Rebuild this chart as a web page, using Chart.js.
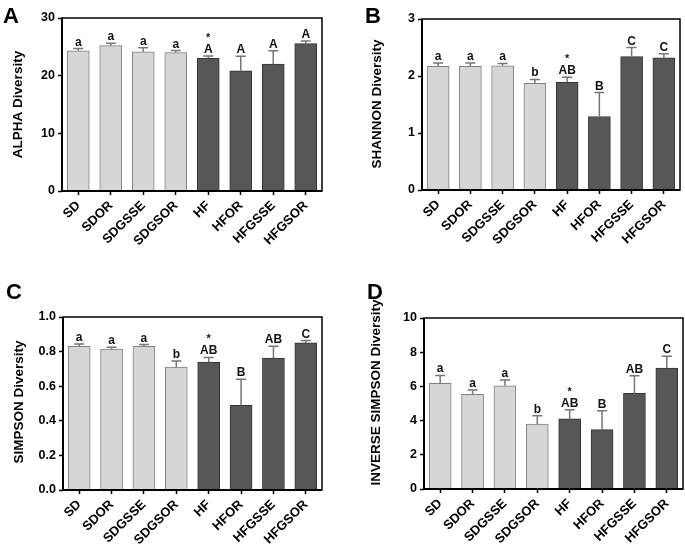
<!DOCTYPE html>
<html>
<head>
<meta charset="utf-8">
<script src="https://cdn.jsdelivr.net/npm/chart.js@4.4.1/dist/chart.umd.min.js"></script>
<style>
body { margin: 0; background: #fff; }
#wrap { position: relative; width: 685px; height: 545px; overflow: hidden; background: #fff; }
canvas { position: absolute; }
</style>
</head>
<body>
<div id="wrap">
  <canvas id="cA" width="342" height="272" style="left:0;top:0"></canvas>
  <canvas id="cB" width="343" height="272" style="left:342px;top:0"></canvas>
  <canvas id="cC" width="342" height="273" style="left:0;top:272px"></canvas>
  <canvas id="cD" width="343" height="273" style="left:342px;top:272px"></canvas>
</div>
<script>
// groups
var categories = ['SD', 'SDOR', 'SDGSSE', 'SDGSOR', 'HF', 'HFOR', 'HFGSSE', 'HFGSOR'];

// mean and SEM
var alphaMean = [24.3, 25.2, 24.15, 24.0, 23.0, 20.85, 22.0, 25.55];
var alphaSem = [0.4, 0.4, 0.7, 0.35, 0.4, 2.5, 2.3, 0.45];
var alphaLetters = ['a', 'a', 'a', 'a', 'A', 'A', 'A', 'A'];
var alphaTicks = [0, 10, 20, 30];

var shannonMean = [2.17, 2.17, 2.18, 1.87, 1.89, 1.29, 2.34, 2.32];
var shannonSem = [0.06, 0.06, 0.04, 0.07, 0.09, 0.42, 0.16, 0.07];
var shannonLetters = ['a', 'a', 'a', 'b', 'AB', 'B', 'C', 'C'];
var shannonTicks = [0, 1, 2, 3];

var simpsonMean = [0.831, 0.814, 0.831, 0.710, 0.739, 0.489, 0.762, 0.850];
var simpsonSem = [0.013, 0.011, 0.010, 0.036, 0.027, 0.151, 0.069, 0.014];
var simpsonLetters = ['a', 'a', 'a', 'b', 'AB', 'B', 'AB', 'C'];
var simpsonTicks = [0, 0.2, 0.4, 0.6, 0.8, 1.0];

var invSimpsonMean = [6.18, 5.54, 6.04, 3.79, 4.11, 3.47, 5.59, 7.07];
var invSimpsonSem = [0.46, 0.25, 0.33, 0.50, 0.53, 1.11, 1.03, 0.70];
var invSimpsonLetters = ['a', 'a', 'a', 'b', 'AB', 'B', 'AB', 'C'];
var invSimpsonTicks = [0, 2, 4, 6, 8, 10];

// group marked with an asterisk
var starGroup = 'HF';

var FONT = "'Liberation Sans', Arial, sans-serif";
var lightFill = '#d6d6d6', lightLine = '#808080';
var darkFill = '#575757', darkLine = '#333333';

Chart.defaults.font.family = FONT;
Chart.defaults.color = '#000';

function barColors(fill1, fill2) {
    return categories.map(function (c) { return c.indexOf('HF') === 0 ? fill2 : fill1; });
}

var panelPlugin = {
    id: 'panelDeco',
    afterDatasetsDraw: function (chart) {
        var o = chart.options.plugins.panelDeco;
        var ctx = chart.ctx;
        var a = chart.chartArea;
        var xs = chart.scales.x, ys = chart.scales.y;
        ctx.save();

        // frame
        ctx.strokeStyle = '#000';
        ctx.lineWidth = 1.5;
        ctx.strokeRect(a.left, a.top, a.right - a.left, a.bottom - a.top);
        ctx.lineWidth = 2;
        ctx.beginPath();
        ctx.moveTo(a.left, a.top);
        ctx.lineTo(a.left, a.bottom);
        ctx.lineTo(a.right, a.bottom);
        ctx.stroke();

        // error bars (upper only) and letters
        o.mean.forEach(function (m, i) {
            var x = xs.getPixelForValue(i);
            var yb = ys.getPixelForValue(m);
            var yt = ys.getPixelForValue(m + o.sem[i]);
            ctx.strokeStyle = '#767676';
            ctx.lineWidth = 1.5;
            ctx.beginPath();
            ctx.moveTo(x, yb);
            ctx.lineTo(x, yt);
            ctx.moveTo(x - 5, yt);
            ctx.lineTo(x + 5, yt);
            ctx.stroke();

            ctx.fillStyle = '#111';
            ctx.font = 'bold 12px ' + FONT;
            ctx.textAlign = 'center';
            ctx.textBaseline = 'alphabetic';
            var base = yt - 3;
            ctx.fillText(o.letters[i], x, base);
            if (categories[i] === starGroup) {
                ctx.font = 'bold 11px ' + FONT;
                ctx.fillText('*', x, base - 12);
            }
        });

        // axis title
        ctx.save();
        ctx.translate(o.titleX, o.titleY);
        ctx.rotate(-Math.PI / 2);
        ctx.font = 'bold 13.5px ' + FONT;
        ctx.fillStyle = '#000';
        ctx.textAlign = 'center';
        ctx.textBaseline = 'middle';
        ctx.fillText(o.title, 0, 0);
        ctx.restore();

        // panel letter
        ctx.font = 'bold 22px ' + FONT;
        ctx.fillStyle = '#000';
        ctx.textAlign = 'left';
        ctx.textBaseline = 'alphabetic';
        ctx.fillText(o.panel, o.panelX, o.panelY);
        ctx.restore();
    }
};

function makePanel(id, p) {
    return new Chart(document.getElementById(id), {
        type: 'bar',
        data: {
            labels: categories,
            datasets: [{
                data: p.mean,
                backgroundColor: barColors(lightFill, darkFill),
                borderColor: barColors(lightLine, darkLine),
                borderWidth: 1,
                borderSkipped: 'bottom',
                barThickness: 22
            }]
        },
        options: {
            responsive: false,
            animation: false,
            devicePixelRatio: 1,
            layout: { padding: { left: 0, top: p.padTop, right: p.padRight, bottom: 0 } },
            plugins: {
                legend: { display: false },
                tooltip: { enabled: false },
                panelDeco: p
            },
            scales: {
                x: {
                    type: 'category',
                    offset: true,
                    grid: { display: true, drawOnChartArea: false, offset: false, tickLength: 4, tickColor: '#000', tickWidth: 1.5 },
                    border: { display: false },
                    ticks: {
                        autoSkip: false, minRotation: 45, maxRotation: 45, padding: 3,
                        color: '#000', font: { size: 13, weight: 'bold' }
                    },
                    afterFit: function (s) { s.height = p.xHeight; }
                },
                y: {
                    min: p.ticks[0],
                    max: p.ticks[p.ticks.length - 1],
                    grid: { display: true, drawOnChartArea: false, tickLength: 4, tickColor: '#000', tickWidth: 1.5 },
                    border: { display: false },
                    afterBuildTicks: function (s) { s.ticks = p.ticks.map(function (v) { return { value: v }; }); },
                    ticks: {
                        padding: 3, color: '#000', font: { size: 12.5, weight: 'bold' },
                        callback: function (v) { return p.decimals ? v.toFixed(p.decimals) : v; }
                    },
                    afterFit: function (s) { s.width = p.yWidth; }
                }
            }
        },
        plugins: [panelPlugin]
    });
}

makePanel('cA', {
    mean: alphaMean, sem: alphaSem, letters: alphaLetters, ticks: alphaTicks, decimals: 0,
    title: 'ALPHA Diversity', titleX: 18, titleY: 104.5,
    panel: 'A', panelX: 3, panelY: 23,
    yWidth: 62, padTop: 18, padRight: 20, xHeight: 81
});
makePanel('cB', {
    mean: shannonMean, sem: shannonSem, letters: shannonLetters, ticks: shannonTicks, decimals: 0,
    title: 'SHANNON Diversity', titleX: 35, titleY: 104,
    panel: 'B', panelX: 23, panelY: 23,
    yWidth: 80, padTop: 19, padRight: 5, xHeight: 82
});
makePanel('cC', {
    mean: simpsonMean, sem: simpsonSem, letters: simpsonLetters, ticks: simpsonTicks, decimals: 1,
    title: 'SIMPSON Diversity', titleX: 19, titleY: 130,
    panel: 'C', panelX: 6, panelY: 27,
    yWidth: 63, padTop: 45, padRight: 20, xHeight: 55
});
makePanel('cD', {
    mean: invSimpsonMean, sem: invSimpsonSem, letters: invSimpsonLetters, ticks: invSimpsonTicks, decimals: 0,
    title: 'INVERSE SIMPSON Diversity', titleX: 34, titleY: 120.5,
    panel: 'D', panelX: 25, panelY: 27,
    yWidth: 82, padTop: 46, padRight: 2, xHeight: 56
});
</script>
</body>
</html>
